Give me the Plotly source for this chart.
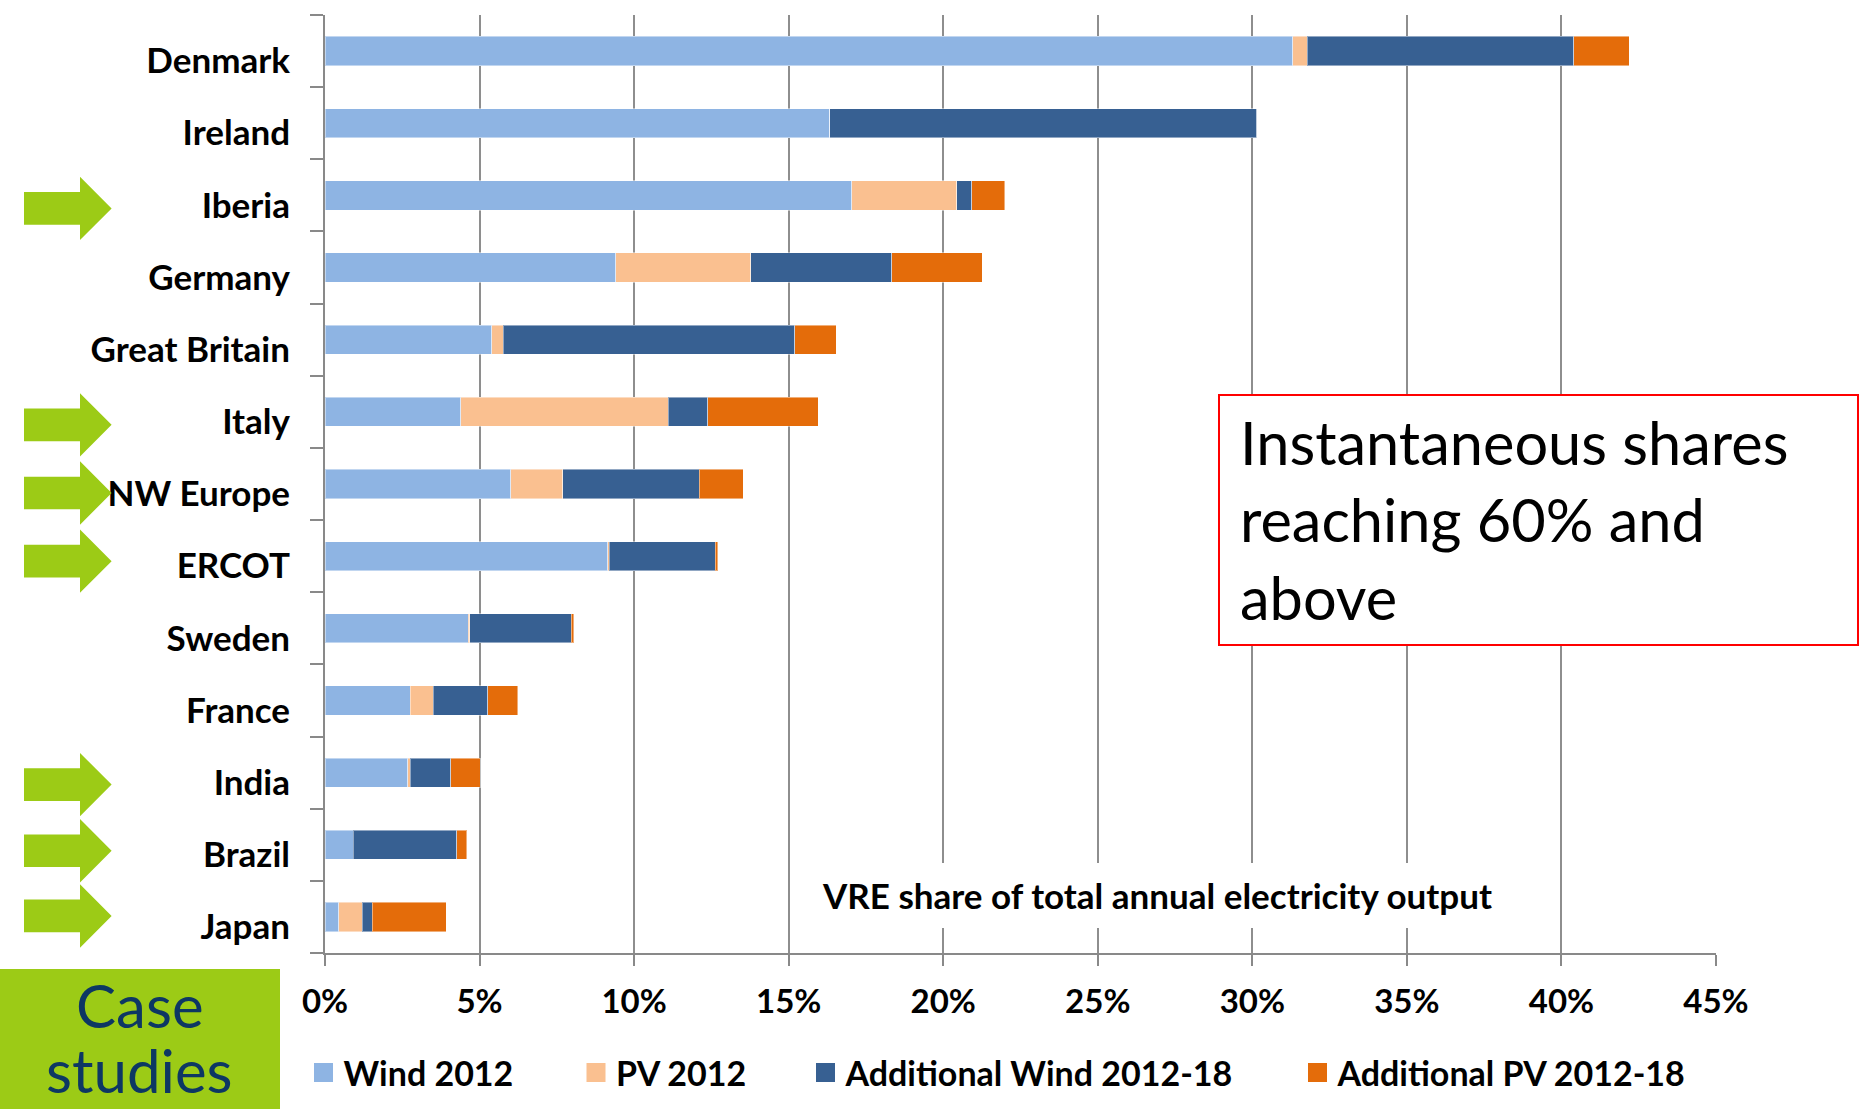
import plotly.graph_objects as go

# Annual VRE share of electricity output by region (percent)
countries = ["Denmark", "Ireland", "Iberia", "Germany", "Great Britain", "Italy",
             "NW Europe", "ERCOT", "Sweden", "France", "India", "Brazil", "Japan"]
wind_2012 = [31.30, 16.33, 17.04, 9.41, 5.40, 4.39, 6.01, 9.15, 4.64, 2.75, 2.67, 0.91, 0.45]
pv_2012 = [0.48, 0.00, 3.39, 4.37, 0.36, 6.72, 1.68, 0.05, 0.05, 0.75, 0.09, 0.00, 0.75]
add_wind = [8.61, 13.82, 0.50, 4.56, 9.44, 1.28, 4.41, 3.42, 3.27, 1.77, 1.31, 3.36, 0.33]
add_pv = [1.80, 0.00, 1.06, 2.93, 1.34, 3.56, 1.43, 0.08, 0.08, 0.97, 0.96, 0.32, 2.40]

series_names = ["Wind 2012", "PV 2012", "Additional Wind 2012-18", "Additional PV 2012-18"]
series_values = [wind_2012, pv_2012, add_wind, add_pv]
series_colors = ["#8EB4E3", "#FAC090", "#376092", "#E46C0A"]

x_tick_values = [0, 5, 10, 15, 20, 25, 30, 35, 40, 45]

# Regions highlighted with an arrow as case studies (vertical nudge in px)
case_studies = {"Iberia": 13, "Italy": 13, "NW Europe": 9, "ERCOT": 5,
                "India": 12, "Brazil": 6, "Japan": -1}

W, H = 1863, 1109
ML, MR, MT, MB = 325, 147, 15, 156
PW = W - ML - MR
PH = H - MT - MB

AXIS_GREY = "#898989"
GRID_GREY = "#8E8E8E"
GREEN = "#9CCB16"
NAVY = "#0D3763"
FONT = "Lato"


def px_x(px):
    return (px - ML) / PW


def px_y(py):
    return (H - MB - py) / PH


fig = go.Figure()

legend_keys = ["legend", "legend2", "legend3", "legend4"]
for name, vals, color, leg in zip(series_names, series_values, series_colors, legend_keys):
    fig.add_trace(go.Bar(
        y=countries, x=vals, orientation="h", name=name,
        width=0.405,
        marker=dict(color=color, line=dict(color="rgba(255,255,255,0.45)", width=1)),
        showlegend=False, hoverinfo="x+y+name",
    ))
    # legend swatch sized like a filled square key
    fig.add_trace(go.Scatter(
        x=[None], y=[None], mode="markers", name=name, legend=leg,
        marker=dict(symbol="square", size=16, color=color, line=dict(color=color, width=3)),
        showlegend=True, hoverinfo="skip",
    ))

shapes = []
annotations = []

# "Case studies" badge in the lower-left corner
shapes.append(dict(type="rect", xref="paper", yref="paper",
                   x0=px_x(0), x1=px_x(280), y0=px_y(1115), y1=px_y(969),
                   fillcolor=GREEN, line=dict(width=0), layer="above"))
annotations.append(dict(xref="paper", yref="paper", x=px_x(140), y=px_y(1005),
                        text="Case", showarrow=False, xanchor="center", yanchor="middle",
                        font=dict(family=FONT, size=60, color=NAVY)))
annotations.append(dict(xref="paper", yref="paper", x=px_x(140), y=px_y(1070),
                        text="studies", showarrow=False, xanchor="center", yanchor="middle",
                        font=dict(family=FONT, size=60, color=NAVY)))

# Green arrows next to the case-study regions
n = len(countries)
slot = PH / n
for region, nudge in case_studies.items():
    idx = countries.index(region)
    cy = MT + (idx + 0.5) * slot + nudge
    pts = [(24, cy - 16.3), (80, cy - 16.3), (80, cy - 31.7), (111.6, cy),
           (80, cy + 31.7), (80, cy + 16.3), (24, cy + 16.3)]
    path = "M " + " L ".join(f"{px_x(a):.5f},{px_y(b):.5f}" for a, b in pts) + " Z"
    shapes.append(dict(type="path", xref="paper", yref="paper", path=path,
                       fillcolor=GREEN, line=dict(width=0), layer="above"))

# Axis caption on a white panel over the gridlines
shapes.append(dict(type="rect", xref="paper", yref="paper",
                   x0=px_x(790), x1=px_x(1557), y0=px_y(928), y1=px_y(863),
                   fillcolor="white", line=dict(width=0), layer="above"))
annotations.append(dict(xref="paper", yref="paper", x=px_x(1157), y=px_y(895),
                        text="VRE share of total annual electricity output",
                        showarrow=False, xanchor="center", yanchor="middle",
                        font=dict(family=FONT, size=35, color="black", weight="bold")))

# Call-out box
shapes.append(dict(type="rect", xref="paper", yref="paper",
                   x0=px_x(1219), x1=px_x(1858), y0=px_y(645), y1=px_y(395),
                   fillcolor="white", line=dict(color="#FF0000", width=2), layer="above"))
annotations.append(dict(xref="paper", yref="paper", x=px_x(1238), y=px_y(519),
                        text="Instantaneous shares<br>reaching 60% and<br>above",
                        showarrow=False, xanchor="left", yanchor="middle", align="left",
                        font=dict(family=FONT, size=59.5, color="black")))

legend_centers = [323.5, 596, 825.5, 1317.5]
legend_layout = {}
for key, c in zip(legend_keys, legend_centers):
    legend_layout[key] = dict(
        x=px_x(c - 20), xanchor="left", y=px_y(1073), yanchor="middle",
        orientation="h", bgcolor="rgba(0,0,0,0)", borderwidth=0,
        font=dict(family=FONT, size=34, color="black", weight="bold"),
    )

fig.update_layout(
    width=W, height=H,
    margin=dict(l=ML, r=MR, t=MT, b=MB, pad=0, autoexpand=False),
    paper_bgcolor="white", plot_bgcolor="white",
    barmode="stack",
    font=dict(family=FONT, color="black"),
    shapes=shapes, annotations=annotations,
    **legend_layout,
)

fig.update_xaxes(
    range=[0, 45], tickmode="array", tickvals=x_tick_values,
    ticktext=[f"{v}%" for v in x_tick_values],
    showgrid=True, gridcolor=GRID_GREY, gridwidth=1.5,
    showline=True, linecolor=AXIS_GREY, linewidth=2,
    ticks="outside", ticklen=11, tickwidth=1.5, tickcolor=AXIS_GREY,
    zeroline=False, ticklabelstandoff=7,
    tickfont=dict(family=FONT, size=33, color="black", weight="bold"),
    fixedrange=True,
)
fig.update_yaxes(
    type="category", categoryorder="array", categoryarray=countries[::-1],
    range=[-0.5, n - 0.5],
    showgrid=False, showline=True, linecolor=AXIS_GREY, linewidth=2,
    ticks="outside", ticklen=13, tickwidth=2, tickcolor=AXIS_GREY,
    tickson="boundaries", ticklabelstandoff=26, ticklabelshift=10,
    tickfont=dict(family=FONT, size=35, color="black", weight="bold"),
    fixedrange=True,
)

fig.write_html("out.html")
